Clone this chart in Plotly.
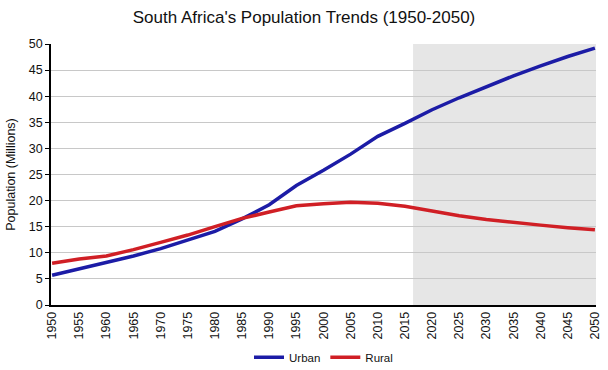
import plotly.graph_objects as go

years = [1950, 1955, 1960, 1965, 1970, 1975, 1980, 1985, 1990, 1995, 2000,
         2005, 2010, 2015, 2020, 2025, 2030, 2035, 2040, 2045, 2050]
urban = [5.7, 6.9, 8.1, 9.4, 10.8, 12.4, 14.1, 16.5, 19.2, 22.9, 25.8,
         28.9, 32.3, 34.8, 37.4, 39.7, 41.8, 43.9, 45.8, 47.6, 49.2]
rural = [8.0, 8.8, 9.4, 10.6, 12.0, 13.4, 15.0, 16.6, 17.8, 19.0, 19.4,
         19.7, 19.5, 18.9, 18.0, 17.1, 16.4, 15.8, 15.3, 14.8, 14.4]
tick_years = years
y_ticks = list(range(0, 51, 5))
projection_start = 2016.5
projection_end = 2050.2

fig = go.Figure()
fig.add_trace(go.Scatter(x=years, y=urban, name="Urban", mode="lines",
                         line=dict(color="#1c1ca6", width=3.5)))
fig.add_trace(go.Scatter(x=years, y=rural, name="Rural", mode="lines",
                         line=dict(color="#d01f25", width=3.5)))

fig.add_shape(type="rect", xref="x", yref="y", x0=projection_start, x1=projection_end,
              y0=0, y1=50, fillcolor="#e6e6e6", line=dict(width=0), layer="below")

fig.update_layout(
    width=608, height=370,
    margin=dict(l=51, r=12, t=44, b=65, autoexpand=False),
    paper_bgcolor="white", plot_bgcolor="white",
    font=dict(family="Liberation Sans, Arial, sans-serif", size=12, color="#111"),
    title=dict(text="South Africa's Population Trends (1950-2050)", x=0.5, xanchor="center",
               y=0.955, yanchor="middle", font=dict(size=17, color="#111")),
    showlegend=True,
    legend=dict(orientation="h", x=0.5, xanchor="center", y=-0.2, yanchor="middle",
                font=dict(size=11.5), itemwidth=30),
    xaxis=dict(range=[1949.8, 2050.2], tickvals=tick_years, ticktext=[str(y) for y in tick_years],
               tickangle=-90, showgrid=False, showline=True, linecolor="black", linewidth=1.5,
               ticks="", zeroline=False, tickfont=dict(size=12.5), automargin=False),
    yaxis=dict(range=[0, 50], tickvals=y_ticks, showgrid=True, gridcolor="#c8c8c8", gridwidth=1,
               showline=True, linecolor="black", linewidth=1.5, ticks="outside", ticklen=4,
               tickcolor="black", zeroline=False, tickfont=dict(size=12.5), automargin=False,
               title=dict(text="Population (Millions)", font=dict(size=12.5), standoff=10)),
)

fig.write_html("out.html", config={"displayModeBar": False},
               post_script="document.body.style.margin='0';document.body.style.padding='0';")
